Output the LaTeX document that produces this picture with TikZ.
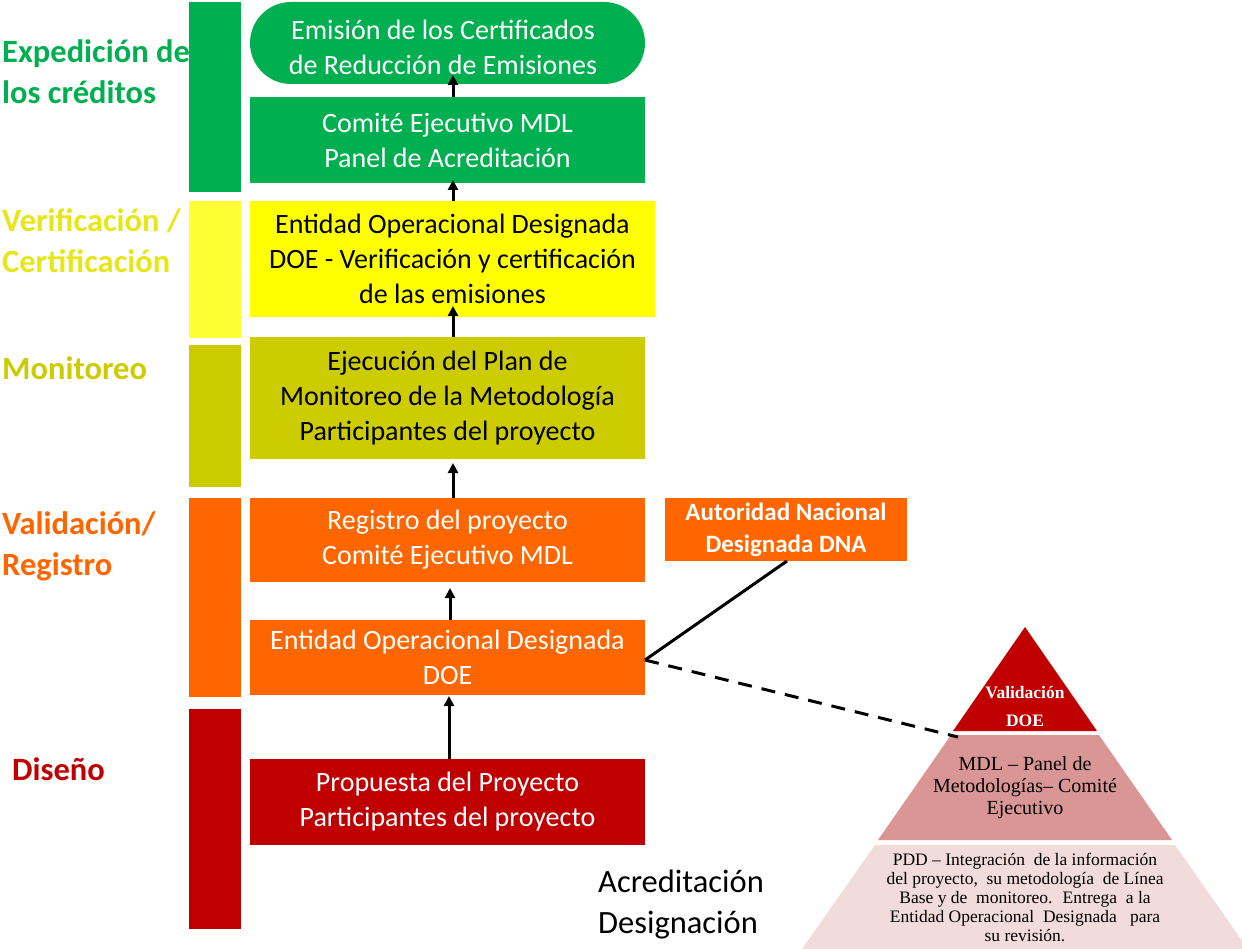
\documentclass[tikz,border=0pt]{standalone}
\usepackage{fontspec}
\setmainfont{Carlito}
\newfontfamily\pyrfont{Liberation Serif}
\usetikzlibrary{arrows.meta}
\definecolor{cgreen}{HTML}{00B050}
\definecolor{cyellow}{HTML}{FFFF00}
\definecolor{cyellowbar}{HTML}{FFFF33}
\definecolor{cyellowtxt}{HTML}{E6E619}
\definecolor{colive}{HTML}{CCCC00}
\definecolor{corange}{HTML}{FF6600}
\definecolor{cred}{HTML}{C00000}
\definecolor{cpink}{HTML}{D99694}
\definecolor{clight}{HTML}{F2DCDB}
\begin{document}
\begin{tikzpicture}[x=1pt,y=-1pt,
  bar/.style={rectangle, inner sep=0pt, minimum width=52pt},
  box/.style={rectangle, inner sep=0pt, align=center, minimum width=395pt,
    font=\fontsize{28}{35}\selectfont},
  phase/.style={anchor=west, align=left, inner sep=0pt, font=\bfseries\fontsize{32.5}{41}\selectfont},
  up/.style={line width=3pt, -{Triangle[length=10pt,width=10pt]}},
  pyrtxt/.style={align=center, inner sep=0pt, font=\pyrfont}]
\useasboundingbox (0,0) rectangle (1242,949);

% left bars
\node[bar, fill=cgreen, minimum height=190pt] (b1) at (215,97) {};
\node[bar, fill=cyellowbar, minimum height=137pt] (b2) at (215,269.5) {};
\node[bar, fill=colive, minimum height=142pt] (b3) at (215,416) {};
\node[bar, fill=corange, minimum height=199pt] (b4) at (215,597.5) {};
\node[bar, fill=cred, minimum height=220pt] (b5) at (215,819) {};

% phase labels
\node[phase, text=cgreen] (l1) at (2,72) {Expedición de\\los créditos};
\node[phase, text=cyellowtxt] (l2) at (2,241) {Verificación /\\Certificación};
\node[phase, text=colive] (l3) at (2,368) {Monitoreo};
\node[phase, text=corange] (l4) at (2,546) {Validación/\\Registro};
\node[phase, text=cred] (l5) at (12,769) {Diseño};

% boxes
\node[box, fill=cgreen, text=white, minimum height=82pt, rounded corners=41pt] (n1) at (447.5,43) {};
\node[box, text=white] (t1) at (443,47) {Emisión de los Certificados\\de Reducción de Emisiones};
\node[box, fill=cgreen, text=white, minimum height=86pt] (n2) at (447.5,140) {Comité Ejecutivo MDL\\Panel de Acreditación};
\node[box, fill=cyellow, text=black, minimum width=405pt, minimum height=116pt] (n3) at (452.5,259) {Entidad Operacional Designada\\DOE - Verificación y certificación\\de las emisiones};
\node[box, fill=colive, text=black, minimum height=122pt] (n4) at (447.5,398) {Ejecución del Plan de\\Monitoreo de la Metodología\\Participantes del proyecto};
\node[box, fill=corange, text=white, minimum height=84pt] (n5) at (447.5,540) {Registro del proyecto\\Comité Ejecutivo MDL};
\node[box, fill=corange, text=white, minimum height=75pt] (n6) at (447.5,657.5) {Entidad Operacional Designada\\DOE};
\node[box, fill=cred, text=white, minimum height=86pt] (n7) at (447.5,802) {Propuesta del Proyecto\\Participantes del proyecto};
\node[rectangle, inner sep=0pt, fill=corange, text=white, align=center, minimum width=242pt, minimum height=63pt,
  font=\bfseries\fontsize{25}{32}\selectfont] (dna) at (786,529.5) {Autoridad Nacional\\Designada DNA};

% arrows
\draw[up] (453,97) -- (453,75);
\draw[up] (453,201) -- (453,180);
\draw[up] (453,337) -- (453,306);
\draw[up] (453,498) -- (453,463);
\draw[up] (450,620) -- (450,588);
\draw[up] (449,759) -- (449,696);

% pyramid
\fill[cred] (1025,627) -- (1097,731) -- (953,731) -- cycle;
\fill[cpink] (951,735) -- (1099,735) -- (1172,840) -- (878,840) -- cycle;
\fill[clight] (875,845) -- (1175,845) -- (1248,949) -- (802,949) -- cycle;
\node[pyrtxt, text=white, font=\pyrfont\bfseries\fontsize{17.5}{28}\selectfont] (p1) at (1025,707) {Validación\\DOE};
\node[pyrtxt, text=black, font=\pyrfont\fontsize{20}{22}\selectfont] (p2) at (1025,788) {MDL – Panel de\\Metodologías– Comité\\Ejecutivo};
\node[pyrtxt, text=black, font=\pyrfont\fontsize{17.5}{19}\selectfont] (p3) at (1025,897) {PDD – Integración \ de la información\\del proyecto, \ su metodología \ de Línea\\Base y de \ monitoreo. \ Entrega \ a la\\Entidad Operacional \ Designada \ \ para\\su revisión.};
\coordinate (pyrjoin) at (958,737);

% connectors
\coordinate (ej) at (645,660);
\draw[line width=3pt] (ej) -- (787,561);
\draw[line width=3pt, dash pattern=on 14pt off 10pt] (ej) -- (pyrjoin);

% Acreditación label
\node[anchor=west, align=left, inner sep=0pt, font=\fontsize{32.5}{41}\selectfont] (acr) at (598,905) {Acreditación\\Designación};
\end{tikzpicture}
\end{document}
